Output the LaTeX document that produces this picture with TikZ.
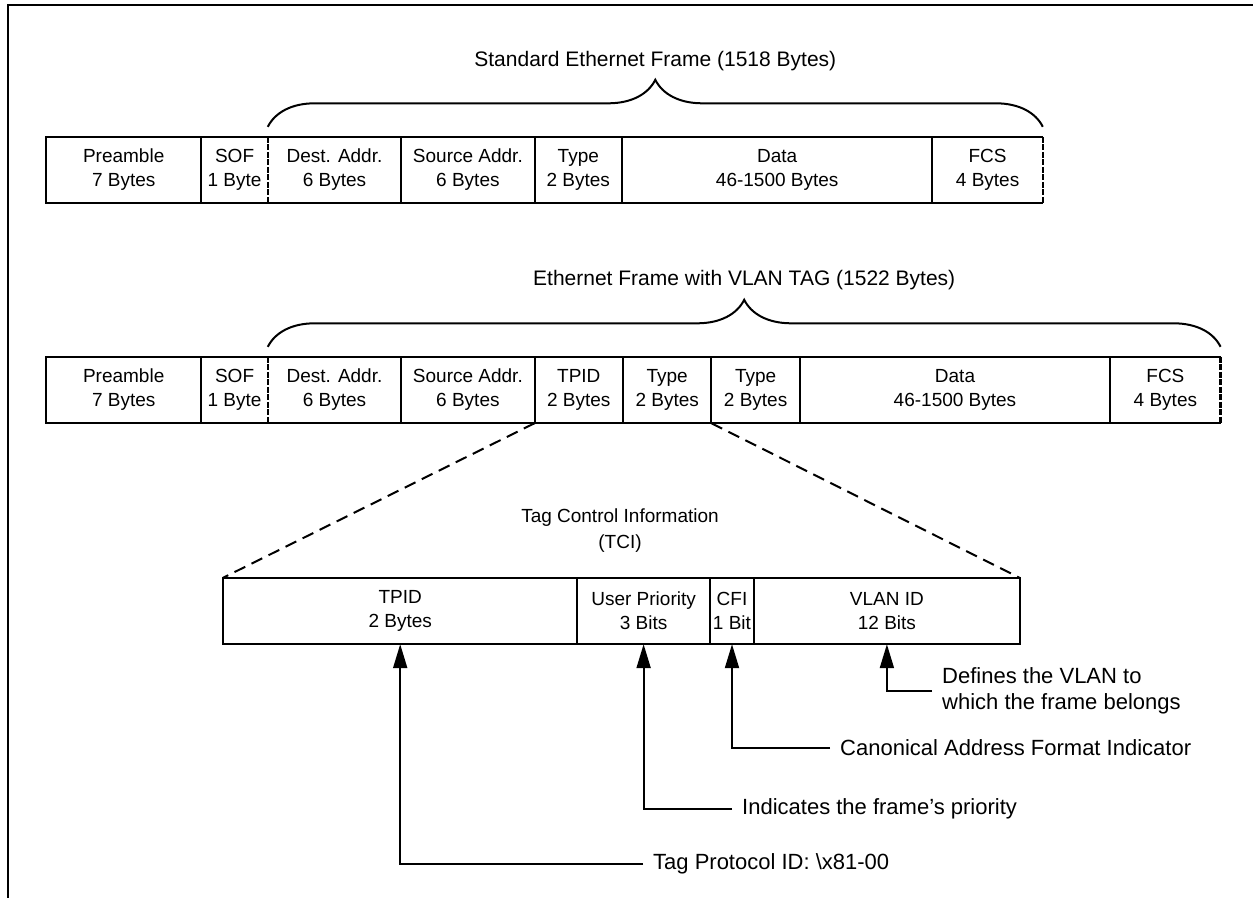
\documentclass[tikz,border=0pt]{standalone}
\usepackage{fontspec}
\setmainfont{Liberation Sans}
\usetikzlibrary{positioning,arrows.meta,decorations.pathreplacing}
\tikzset{
  field/.style = {inner sep=0pt, minimum height=66pt, align=center,
    font=\fontsize{19}{24}\selectfont},
  frameline/.style = {line width=2pt},
  tagcut/.style = {line width=2.6pt, dash pattern=on 6pt off 1.5pt},% dashed field edge
  zoomline/.style = {line width=2pt, dash pattern=on 12pt off 7pt},
  framebrace/.style = {line width=2pt, decorate,
    decoration={brace, amplitude=47pt}},
  pointer/.style = {line width=2pt, -{Triangle[length=24pt,width=14pt]}},
  note/.style = {inner xsep=10pt, inner ysep=0pt, anchor=west, align=left,
    font=\fontsize{22}{26}\selectfont},
  heading/.style = {align=center, font=\fontsize{21}{26}\selectfont}
}

\begin{document}
\begin{tikzpicture}[x=1pt,y=-1pt]
\useasboundingbox (0,0) rectangle (1253,898);
\draw[line width=2.5pt] (1253,5) -- (8,5) -- (8,898);

% standard frame
\node[field, minimum width=155pt, anchor=west] (pre1) at (46,170) {Preamble\\7 Bytes};
\node[field, minimum width=66pt, right=0pt of pre1] (sof1) {SOF\\1 Byte};
\node[field, minimum width=133pt, right=0pt of sof1] (dest1) {Dest. Addr.\\6 Bytes};
\node[field, minimum width=133pt, right=0pt of dest1] (src1) {Source Addr.\\6 Bytes};
\node[field, minimum width=87pt, right=0pt of src1] (type1) {Type\\2 Bytes};
\node[field, minimum width=310pt, right=0pt of type1] (data1) {Data\\46-1500 Bytes};
\node[field, minimum width=110pt, right=0pt of data1] (fcs1) {FCS\\4 Bytes};
\draw[frameline] (fcs1.north east) -- (pre1.north west) -- (pre1.south west) -- (fcs1.south east);
\foreach \f in {pre1,dest1,src1,type1,data1}
  \draw[frameline] (\f.north east) -- (\f.south east);
\foreach \f in {sof1,fcs1}
  \draw[tagcut] (\f.north east) -- (\f.south east);
\draw[framebrace] ([yshift=10pt]dest1.north west) --
  node[heading, yshift=66pt] (title1) {Standard Ethernet Frame (1518 Bytes)}
  ([yshift=10pt]fcs1.north east);

% tagged frame
\node[field, minimum width=155pt, anchor=west] (pre2) at (46,390) {Preamble\\7 Bytes};
\node[field, minimum width=66pt, right=0pt of pre2] (sof2) {SOF\\1 Byte};
\node[field, minimum width=133pt, right=0pt of sof2] (dest2) {Dest. Addr.\\6 Bytes};
\node[field, minimum width=133pt, right=0pt of dest2] (src2) {Source Addr.\\6 Bytes};
\node[field, minimum width=88pt, right=0pt of src2] (tpid2) {TPID\\2 Bytes};
\node[field, minimum width=88pt, right=0pt of tpid2] (typea2) {Type\\2 Bytes};
\node[field, minimum width=88pt, right=0pt of typea2] (typeb2) {Type\\2 Bytes};
\node[field, minimum width=310pt, right=0pt of typeb2] (data2) {Data\\46-1500 Bytes};
\node[field, minimum width=110pt, right=0pt of data2] (fcs2) {FCS\\4 Bytes};
\draw[frameline] (fcs2.north east) -- (pre2.north west) -- (pre2.south west) -- (fcs2.south east);
\foreach \f in {pre2,dest2,src2,tpid2,typea2,typeb2,data2}
  \draw[frameline] (\f.north east) -- (\f.south east);
\foreach \f in {sof2,fcs2}
  \draw[tagcut] (\f.north east) -- (\f.south east);
\draw[framebrace] ([yshift=10pt]dest2.north west) --
  node[heading, yshift=67pt] (title2) {Ethernet Frame with VLAN TAG (1522 Bytes)}
  ([yshift=10pt]fcs2.north east);

% tag control information
\node[field, minimum width=354pt, anchor=west] (tpid3) at (223,611) {TPID\\2 Bytes};
\node[field, minimum width=132pt, right=0pt of tpid3] (prio3) {User Priority\\3 Bits};
\node[field, minimum width=44pt, right=0pt of prio3] (cfi3) {CFI\\1 Bit};
\node[field, minimum width=265pt, right=0pt of cfi3] (vid3) {VLAN ID\\12 Bits};
\draw[frameline] (tpid3.north west) rectangle (vid3.south east);
\foreach \f in {tpid3,prio3,cfi3}
  \draw[frameline] (\f.north east) -- (\f.south east);
\node[field, minimum height=0pt, font=\fontsize{19}{26}\selectfont] (tcihead) at (620,531) {Tag Control Information\\(TCI)};
\draw[zoomline] (tpid2.south west) -- (tpid3.north west);
\draw[zoomline] (typea2.south east) -- (vid3.north east);

% field notes
\node[note] (vidnote) at (932,691) {Defines the VLAN to\\which the frame belongs};
\node[note] (cfinote) at (830,748) {Canonical Address Format Indicator};
\node[note] (prionote) at (732,809) {Indicates the frame’s priority};
\node[note] (tpidnote) at (643,864) {Tag Protocol ID: \textbackslash x81-00};
\draw[pointer] (vidnote.west) -| (vid3.south);
\draw[pointer] (cfinote.west) -| (cfi3.south);
\draw[pointer] (prionote.west) -| (prio3.south);
\draw[pointer] (tpidnote.west) -| (tpid3.south);
\end{tikzpicture}
\end{document}
